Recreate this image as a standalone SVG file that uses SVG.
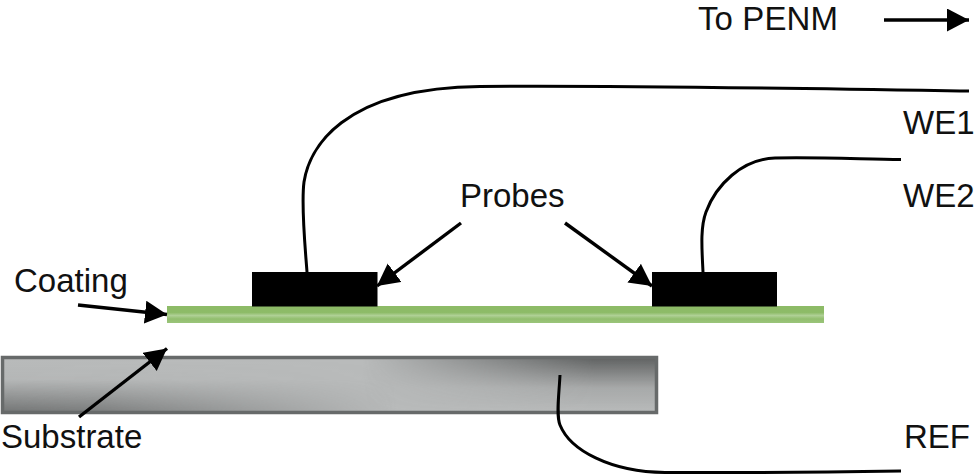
<svg xmlns="http://www.w3.org/2000/svg" width="979" height="475" viewBox="0 0 979 475">
<style>
text{font-family:"Liberation Sans",Arial,sans-serif;font-size:33px;fill:#111}
.w{fill:none;stroke:#000;stroke-width:3}
.a{fill:none;stroke:#000;stroke-width:3.4;marker-end:url(#h)}
</style>
<defs>
<marker id="h" markerUnits="userSpaceOnUse" markerWidth="26" markerHeight="26" refX="22" refY="11.5" orient="auto"><path d="M0,0L22,11.5L0,23Z" fill="#000"/></marker>
<linearGradient id="sL" x1="0" y1="0" x2="0" y2="1"><stop offset="0" stop-color="#6a6c6c" stop-opacity="0"/><stop offset="0.4" stop-color="#6a6c6c" stop-opacity="0.05"/><stop offset="1" stop-color="#6a6c6c" stop-opacity="0.9"/></linearGradient>
<linearGradient id="sR" x1="0" y1="0" x2="0" y2="1"><stop offset="0" stop-color="#5f6161" stop-opacity="1"/><stop offset="0.55" stop-color="#5f6161" stop-opacity="0.2"/><stop offset="1" stop-color="#5f6161" stop-opacity="0"/></linearGradient>
<linearGradient id="fl" x1="0" y1="0" x2="1" y2="0"><stop offset="0" stop-color="#fff"/><stop offset="0.15" stop-color="#ddd"/><stop offset="0.6" stop-color="#000"/></linearGradient>
<linearGradient id="fr" x1="0" y1="0" x2="1" y2="0"><stop offset="0.55" stop-color="#000"/><stop offset="0.9" stop-color="#fff"/></linearGradient>
<mask id="ml"><rect x="0" y="355" width="660" height="60" fill="url(#fl)"/></mask>
<mask id="mr"><rect x="0" y="355" width="660" height="60" fill="url(#fr)"/></mask>
<linearGradient id="c" x1="0" y1="0" x2="0" y2="1"><stop offset="0" stop-color="#8dbb67"/><stop offset="0.38" stop-color="#8dbb67"/><stop offset="0.56" stop-color="#afd095"/><stop offset="0.76" stop-color="#92be6e"/><stop offset="1" stop-color="#9ac47a"/></linearGradient>
</defs>
<g id="substrate">
<rect x="2.5" y="357.500" width="654" height="55" fill="#b9bbbb"/>
<rect x="2.5" y="357.500" width="654" height="55" fill="url(#sL)" mask="url(#ml)"/>
<rect x="2.5" y="357.500" width="654" height="55" fill="url(#sR)" mask="url(#mr)"/>
<rect x="2.5" y="357.500" width="654" height="55" fill="none" stroke="#676a6a" stroke-width="3.500"/>
</g>
<g id="coating"><rect x="167" y="306" width="657" height="17" fill="url(#c)"/></g>
<g id="probe1"><rect x="252" y="272" width="125.500" height="34.500" fill="#000"/></g>
<g id="probe2"><rect x="652" y="272" width="125" height="34.500" fill="#000"/></g>
<g id="connectors">
<path class="w" d="M307,272C305,245 301,205 304,182C309,150 340,88 480,86.500C600,85 780,88 969,91"/>
<path class="w" d="M703,272C702,250 700,228 706,212C716,185 742,159 775,158C815,157 860,159 901,159.500"/>
<path class="w" d="M560,375C559,395 556,415 560,425C570,450 610,472 665,472.500C750,473 830,472 901,471"/>
<path class="a" d="M78,305L167,314.500"/>
<path class="a" d="M79,417L167,348.500"/>
<path class="a" d="M461,223L377,286"/>
<path class="a" d="M565,223L652,286"/>
<path class="a" d="M884,20L969,20"/>
</g>
<g id="labels">
<text x="698" y="30" textLength="140">To PENM</text>
<text x="903" y="134">WE1</text>
<text x="903" y="207">WE2</text>
<text x="460" y="207">Probes</text>
<text x="14" y="292">Coating</text>
<text x="1" y="448">Substrate</text>
<text x="904" y="448">REF</text>
</g>
</svg>
